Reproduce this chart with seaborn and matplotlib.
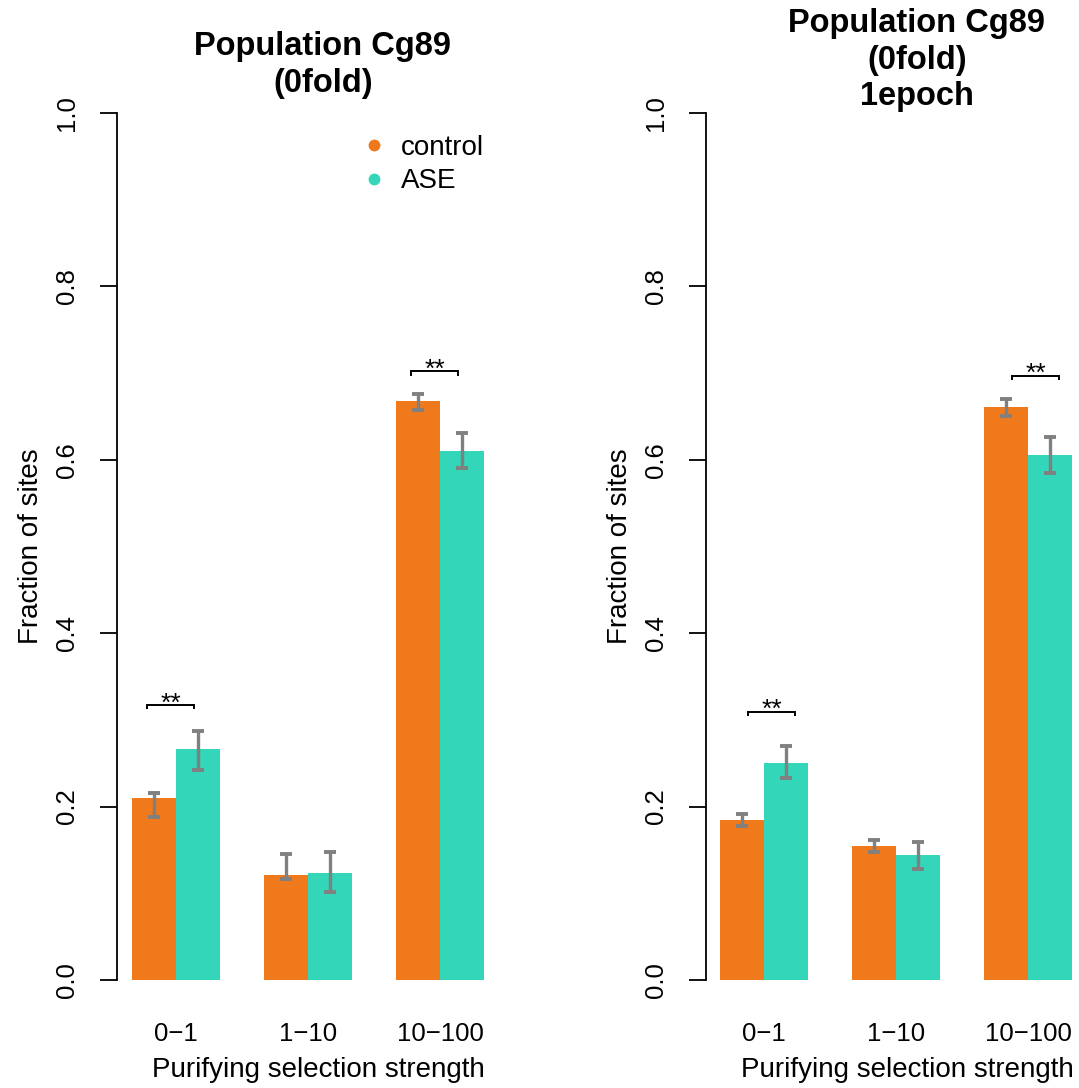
import matplotlib
matplotlib.use("Agg")
import matplotlib.pyplot as plt
from matplotlib.container import BarContainer
from matplotlib.lines import Line2D
import numpy as np
import pandas as pd
import seaborn as sns

# ---- data -------------------------------------------------------------
categories = ["0\u22121", "1\u221210", "10\u2212100"]
groups = ["control", "ASE"]

# panel 1: Population Cg89 (0fold)
p1_control = [0.210, 0.121, 0.668]
p1_control_lo = [0.188, 0.116, 0.658]
p1_control_hi = [0.216, 0.145, 0.676]
p1_ase = [0.266, 0.123, 0.610]
p1_ase_lo = [0.242, 0.101, 0.591]
p1_ase_hi = [0.287, 0.148, 0.631]
p1_bracket = [0.317, None, 0.702]

# panel 2: Population Cg89 (0fold) 1epoch
p2_control = [0.185, 0.155, 0.661]
p2_control_lo = [0.178, 0.148, 0.651]
p2_control_hi = [0.192, 0.161, 0.670]
p2_ase = [0.250, 0.144, 0.606]
p2_ase_lo = [0.233, 0.128, 0.585]
p2_ase_hi = [0.270, 0.159, 0.626]
p2_bracket = [0.309, None, 0.697]

titles = ["Population Cg89\n(0fold)", "Population Cg89\n(0fold)\n1epoch"]
yticks = [0.0, 0.2, 0.4, 0.6, 0.8, 1.0]
ytick_labels = ["0.0", "0.2", "0.4", "0.6", "0.8", "1.0"]

colors = {"control": "#EF791B", "ASE": "#33D6B8"}
err_color = "#808080"

# ---- style ------------------------------------------------------------
sns.set_theme(style="white")
plt.rcParams["font.family"] = ["Liberation Sans", "DejaVu Sans"]
plt.rcParams.update({"text.color": "black", "axes.labelcolor": "black",
                     "xtick.color": "black", "ytick.color": "black"})

LABEL_FS = 20
TICK_FS = 18.5
TITLE_FS = 23.5

W, H = 1079, 1088
fig = plt.figure(figsize=(W / 100, H / 100), dpi=100)

PX_PER_UNIT = 132.0          # one category step in pixels
Y0_PX, Y1_PX = 980.0, 113.0  # pixel rows of y=0 and y=1
YLIM = (-0.04, 1.04)
ypx = (Y0_PX - Y1_PX)
ax_bottom_px = Y0_PX + (0 - YLIM[0]) * ypx
ax_top_px = Y0_PX - (YLIM[1] - 0) * ypx

panels = [
    dict(axis_px=117, center_px=176, right_px=500, title_px=323,
         title_y=65, xlabel_px=318, bracket_shift=-0.042,
         control=p1_control, clo=p1_control_lo, chi=p1_control_hi,
         ase=p1_ase, alo=p1_ase_lo, ahi=p1_ase_hi, bracket=p1_bracket,
         title=titles[0], legend=True),
    dict(axis_px=706, center_px=764, right_px=1079, title_px=917,
         title_y=60, xlabel_px=907, bracket_shift=0.059,
         control=p2_control, clo=p2_control_lo, chi=p2_control_hi,
         ase=p2_ase, alo=p2_ase_lo, ahi=p2_ase_hi, bracket=p2_bracket,
         title=titles[1], legend=False),
]

for p in panels:
    left = p["axis_px"] / W
    width = (p["right_px"] - p["axis_px"]) / W
    bottom = 1 - ax_bottom_px / H
    height = (ax_bottom_px - ax_top_px) / H
    ax = fig.add_axes([left, bottom, width, height])

    df = pd.DataFrame({
        "strength": categories * 2,
        "group": [groups[0]] * 3 + [groups[1]] * 3,
        "fraction": p["control"] + p["ase"],
    })
    sns.barplot(data=df, x="strength", y="fraction", hue="group",
                hue_order=groups, order=categories, palette=colors,
                width=2 / 3, gap=0, errorbar=None, saturation=1,
                legend=False, ax=ax, linewidth=0)

    xl = (p["axis_px"] - p["center_px"]) / PX_PER_UNIT
    xr = (p["right_px"] - p["center_px"]) / PX_PER_UNIT
    ax.set_xlim(xl, xr)
    ax.set_ylim(*YLIM)

    # asymmetric confidence intervals
    lows = [p["clo"], p["alo"]]
    highs = [p["chi"], p["ahi"]]
    vals = [p["control"], p["ase"]]
    bar_sets = [c for c in ax.containers if isinstance(c, BarContainer)]
    for k, cont in enumerate(bar_sets):
        xs = [b.get_x() + b.get_width() / 2 for b in cont.patches]
        v = np.array(vals[k])
        lo = np.array(lows[k])
        hi = np.array(highs[k])
        _, caps, bars = ax.errorbar(xs, v, yerr=[v - lo, hi - v], fmt="none",
                                    ecolor=err_color, elinewidth=2.4,
                                    capsize=4.5, capthick=2.8, zorder=5)
        for b in bars:
            b.set_capstyle("round")

    # significance brackets
    for i, yb in enumerate(p["bracket"]):
        if yb is None:
            continue
        c = i + p["bracket_shift"]
        x0, x1 = c - 0.178, c + 0.178
        ax.plot([x0, x0, x1, x1], [yb - 0.005, yb, yb, yb - 0.005],
                color="black", lw=1.4, solid_capstyle="butt",
                solid_joinstyle="miter", zorder=6)
        ax.text(c, yb - 0.006, "**", ha="center", va="baseline",
                fontsize=19, color="black")

    # axes decoration
    for s in ["top", "right", "bottom"]:
        ax.spines[s].set_visible(False)
    ax.spines["left"].set_bounds(0, 1)
    ax.spines["left"].set_linewidth(1.3)
    ax.spines["left"].set_color("black")
    ax.set_yticks(yticks)
    ax.set_yticklabels(ytick_labels, rotation=90, va="center")
    ax.tick_params(axis="y", direction="out", length=12.2, width=1.3,
                   color="black", pad=15, labelsize=TICK_FS, left=True)
    ax.tick_params(axis="x", length=0, pad=5, labelsize=TICK_FS)
    ax.set_xlabel("")
    ax.set_ylabel("Fraction of sites", fontsize=LABEL_FS, labelpad=8)

    xlab_x = (p["xlabel_px"] - p["center_px"]) / PX_PER_UNIT
    ax.text(xlab_x, 1 - (1070 - ax_top_px) / (ax_bottom_px - ax_top_px),
            "Purifying selection strength", fontsize=LABEL_FS,
            ha="center", va="center",
            transform=ax.get_xaxis_transform(), clip_on=False)

    fig.text(p["title_px"] / W, 1 - p["title_y"] / H, p["title"],
             ha="center", va="center", fontsize=TITLE_FS,
             fontweight="bold", linespacing=1.22, multialignment="center")

    if p["legend"]:
        handles = [Line2D([], [], marker="o", linestyle="none",
                          markersize=7.5, color=colors[g]) for g in groups]
        ax.legend(handles, groups, loc="upper left",
                  bbox_to_anchor=(360 / W, 1 - 135 / H),
                  bbox_transform=fig.transFigure, frameon=False,
                  fontsize=LABEL_FS, handlelength=1.0, handletextpad=0.47,
                  borderpad=0, borderaxespad=0, labelspacing=0.27)

fig.savefig("out.png", dpi=100)
